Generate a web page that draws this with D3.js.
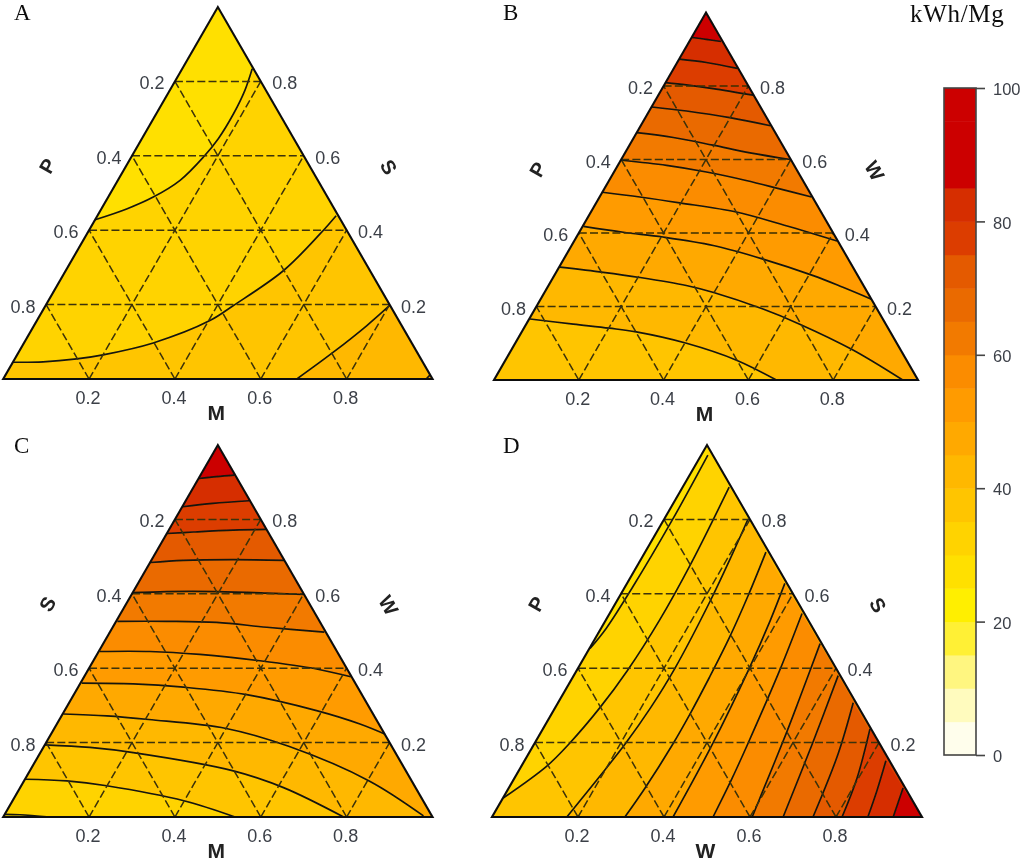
<!DOCTYPE html>
<html><head><meta charset="utf-8">
<script src="https://cdn.jsdelivr.net/npm/d3@7/dist/d3.min.js"></script>
<style>
html,body{margin:0;padding:0;background:#fff}
svg{display:block}
text{font-family:"Liberation Sans",Arial,sans-serif}
</style></head><body>
<svg id="chart" width="1024" height="862"></svg>
<script>
// Contours are [bottom-axis fraction, top-vertex fraction] pairs.
const contoursA = [
 [[.163,.834],[.175,.776],[.180,.713],[.178,.646],[.168,.596],[.145,.534],[.105,.489],[.059,.457],[0,.428]],
 [[.556,.439],[.543,.390],[.507,.291],[.437,.197],[.403,.157],[.301,.097],[.200,.065],[.144,.054],[.070,.046],[0,.045]],
 [[.801,.197],[.775,.143],[.733,.072],[.684,0]],
 [[.989,.011],[.985,0]]
];
const closuresA = [["L","R"],["L","R"],["R"],["R"]];
const levelsA = [30,35,40,45];

const contoursB = [
 [[.001,.932],[.037,.927],[.075,.921]],
 [[0,.873],[.069,.864],[.150,.848]],
 [[0,.809],[.052,.803],[.120,.793],[.224,.775]],
 [[.001,.743],[.088,.732],[.199,.714],[.306,.692]],
 [[0,.673],[.093,.660],[.197,.639],[.295,.618],[.399,.600]],
 [[.002,.598],[.115,.584],[.218,.566],[.323,.543],[.414,.520],[.500,.498]],
 [[0,.511],[.095,.498],[.197,.482],[.343,.457],[.461,.425],[.620,.378]],
 [[.002,.418],[.104,.402],[.204,.389],[.334,.366],[.470,.329],[.611,.284],[.695,.253],[.780,.220]],
 [[.002,.307],[.111,.293],[.204,.279],[.325,.257],[.399,.238],[.538,.193],[.645,.152],[.803,.083],[.964,0]],
 [[.002,.166],[.111,.152],[.201,.141],[.270,.131],[.404,.100],[.545,.054],[.666,0]]
].reverse();
const closuresB = [["R","T"],["R","T"],["T"],["T"],["T"],["T"],["T"],["T"],["T"],["T"]];
const levelsB = [40,45,50,55,60,65,70,75,80,85];

const contoursC = [
 [[.001,.910],[.040,.915],[.079,.919]],
 [[.001,.834],[.067,.843],[.148,.850]],
 [[0,.762],[.060,.766],[.150,.771],[.227,.773]],
 [[0,.684],[.075,.690],[.190,.692],[.310,.690]],
 [[0,.603],[.078,.606],[.194,.606],[.313,.602],[.400,.598]],
 [[.003,.526],[.118,.526],[.2355,.523],[.359,.510],[.4995,.497]],
 [[.0025,.445],[.1195,.445],[.2395,.437],[.388,.420],[.531,.398],[.621,.377]],
 [[.003,.360],[.124,.358],[.2455,.349],[.4025,.329],[.587,.286],[.706,.250],[.790,.218]],
 [[.0015,.277],[.105,.272],[.208,.262],[.4005,.238],[.570,.190],[.804,.097],[.9775,.003]],
 [[0,.194],[.1085,.187],[.2165,.173],[.474,.124],[.6135,.079],[.793,0]],
 [[0,.1015],[.0995,.097],[.199,.084],[.4015,.043],[.540,0]],
 [[.0005,.007],[.036,.006],[.109,0]]
].reverse();
const closuresC = [["R","T"],["R","T"],["R","T"],["R","T"],["T"],["T"],["T"],["T"],["T"],["T"],["T"],["T"]];
const levelsC = [30,35,40,45,50,55,60,65,70,75,80,85];

const contoursD = [
 [[.0155,.973],[.020,.798],[.018,.617],[.012,.507],[.0015,.453]],
 [[.108,.887],[.122,.682],[.125,.528],[.118,.394],[.104,.294],[.081,.197],[.059,.137],[.0005,.051]],
 [[.195,.801],[.205,.712],[.217,.582],[.2255,.399],[.222,.294],[.2115,.197],[.195,.105],[.174,0]],
 [[.281,.712],[.298,.596],[.311,.482],[.318,.375],[.322,.278],[.3225,.197],[.317,.078],[.309,0]],
 [[.367,.628],[.383,.528],[.3985,.399],[.415,.191],[.421,0]],
 [[.4475,.547],[.472,.394],[.4965,.197],[.507,.097],[.514,0]],
 [[.530,.466],[.557,.313],[.572,.224],[.596,.062],[.605,0]],
 [[.615,.380],[.6465,.197],[.677,0]],
 [[.6865,.307],[.720,.170],[.7465,0]],
 [[.7605,.237],[.7965,.105],[.814,0]],
 [[.8405,.151],[.860,.070],[.874,0]],
 [[.917,.078],[.933,0]]
];
const closuresD = [["L","R","T"],["L","R"],["R"],["R"],["R"],["R"],["R"],["R"],["R"],["R"],["R"],["R"]];
const levelsD = [30,35,40,45,50,55,60,65,70,75,80,85];

const panelNames = ["A","B","C","D"];
const bottomTitles = ["M","M","M","W"];
const leftTitles = ["P","P","S","P"];
const rightTitles = ["S","W","W","S"];
const gridTicks = [.2,.4,.6,.8];
const bandFloors = [0,5,10,15,20,25,30,35,40,45,50,55,60,65,70,75,80,85,90,95];
const bandColors = ["#FFFEEC","#FFFBBE","#FFF680","#FFF036","#FFEF00","#FFE000","#FFD300","#FFC500","#FFB800","#FFA900","#FF9B00","#FB8C00","#F27A00","#EA6A00","#E45A00","#DC3E00","#D62F00","#CC0000","#CC0000","#CC0000"];
const legendTicks = [0,20,40,60,80,100];
const legendTitle = "kWh/Mg";

const color = d3.scaleThreshold().domain(bandFloors.slice(1)).range(bandColors);
const root = d3.select("#chart");
const defs = root.append("defs");
defs.append("filter").attr("id","soft").attr("filterUnits","userSpaceOnUse")
  .attr("x",0).attr("y",0).attr("width",1024).attr("height",862)
  .append("feGaussianBlur").attr("stdDeviation",0.45);
const svg = root.append("g").attr("filter","url(#soft)");
const LABEL = "#3b3f47";

const layouts = [
 {L:3.2,R:432.5,B:379,T:7, lx:14,ly:20, contours:contoursA, closures:closuresA, levels:levelsA, base:25},
 {L:494,R:918,B:380,T:12.5,lx:503,ly:20, contours:contoursB, closures:closuresB, levels:levelsB, base:35},
 {L:3.2,R:432.5,B:817,T:445,lx:14,ly:453, contours:contoursC, closures:closuresC, levels:levelsC, base:25},
 {L:492,R:922,B:817,T:445,lx:503,ly:453, contours:contoursD, closures:closuresD, levels:levelsD, base:25}
];

layouts.forEach((p,i)=>{
  const xs = d3.scaleLinear().domain([0,1]).range([p.L,p.R]);
  const ys = d3.scaleLinear().domain([0,1]).range([p.B,p.T]);
  const px = d=>xs(d[0]+d[1]/2), py = d=>ys(d[1]);
  const corners = {L:[0,0],R:[1,0],T:[0,1]};
  const tri = [corners.L,corners.R,corners.T];
  const g = svg.append("g");
  defs.append("clipPath").attr("id","clip"+i).append("path")
    .attr("d",d3.line().x(px).y(py)(tri)+"Z");
  const inner = g.append("g").attr("clip-path",`url(#clip${i})`);
  const curve = d3.line().x(px).y(py).curve(d3.curveCatmullRom.alpha(0.5));
  const straight = d3.line().x(px).y(py);
  inner.append("path").attr("d",straight(tri)+"Z").attr("fill",color(p.base));
  inner.selectAll("path.band").data(p.contours).join("path").attr("class","band")
    .attr("d",(c,k)=>{
       const tail = p.closures[k].map(n=>corners[n]);
       return curve(c)+tail.map(t=>`L${px(t)},${py(t)}`).join("")+"Z";
    })
    .attr("fill",(c,k)=>color(p.levels[k]));
  inner.selectAll("path.iso").data(p.contours).join("path").attr("class","iso")
    .attr("d",curve).attr("fill","none").attr("stroke","#15150e").attr("stroke-width",1.65);
  const gridLines = gridTicks.flatMap(v=>[
     [[0,v],[1-v,v]],
     [[v,0],[v,1-v]],
     [[v,0],[0,v]]
  ]);
  inner.selectAll("path.grid").data(gridLines).join("path").attr("class","grid")
    .attr("d",straight).attr("fill","none").attr("stroke","#3a3008").attr("stroke-width",1.5)
    .attr("stroke-dasharray","8 3.2");
  g.append("path").attr("d",straight(tri)+"Z").attr("fill","none")
    .attr("stroke","#0c0c0c").attr("stroke-width",2.1).attr("stroke-linejoin","miter");

  const bottom = d3.axisBottom(xs)
     .tickValues(gridTicks).tickSize(0).tickPadding(0).tickFormat(d3.format(".1f"));
  const ax = g.append("g").attr("transform",`translate(-1.5,${p.B+12})`).call(bottom);
  ax.select(".domain").remove();
  ax.selectAll("text").attr("font-size",18).attr("fill",LABEL).attr("dy","0.71em")
    .style("font-family",'"Liberation Sans",Arial,sans-serif');
  g.selectAll("text.lt").data(gridTicks).join("text").attr("class","lt")
    .attr("x",v=>px([0,1-v])-23).attr("y",v=>py([0,1-v])+8)
    .attr("text-anchor","middle").attr("font-size",18).attr("fill",LABEL).text(d3.format(".1f"));
  g.selectAll("text.rt").data(gridTicks).join("text").attr("class","rt")
    .attr("x",v=>px([1-v,v])+24).attr("y",v=>py([1-v,v])+8)
    .attr("text-anchor","middle").attr("font-size",18).attr("fill",LABEL).text(d3.format(".1f"));
  const mid = (p.L+p.R)/2;
  const h = p.B-p.T, w = p.R-p.L;
  g.append("text").attr("x",mid-1.5).attr("y",p.B+41).attr("text-anchor","middle")
    .attr("font-size",21).attr("font-weight","bold").attr("fill","#222").text(bottomTitles[i]);
  g.append("text").attr("transform",`translate(${mid-w*0.397},${p.B-h*0.573}) rotate(-60)`)
    .attr("text-anchor","middle").attr("dy","0.36em")
    .attr("font-size",20).attr("font-weight","bold").attr("fill","#222").text(leftTitles[i]);
  g.append("text").attr("transform",`translate(${mid+w*0.398},${p.B-h*0.570}) rotate(60)`)
    .attr("text-anchor","middle").attr("dy","0.36em")
    .attr("font-size",20).attr("font-weight","bold").attr("fill","#222").text(rightTitles[i]);
  g.append("text").attr("x",p.lx).attr("y",p.ly)
    .style("font-family",'"Liberation Serif","Times New Roman",serif')
    .attr("font-size",23).attr("fill","#111").text(panelNames[i]);
});

const yBar = d3.scaleLinear().domain([0,100]).range([755,88]);
const barX = 944, barW = 32;
const bar = svg.append("g");
bar.selectAll("rect").data(bandFloors).join("rect")
  .attr("x",barX).attr("width",barW)
  .attr("y",d=>yBar(d+5)).attr("height",d=>yBar(d)-yBar(d+5)+0.5)
  .attr("fill",d=>color(d));
bar.append("rect").attr("x",barX).attr("y",yBar(100)).attr("width",barW).attr("height",yBar(0)-yBar(100))
  .attr("fill","none").attr("stroke","#444").attr("stroke-width",1.6);
const legend = svg.append("g").attr("transform",`translate(${barX+barW},0)`)
  .call(d3.axisRight(yBar).tickValues(legendTicks).tickSize(9).tickPadding(8).tickFormat(d3.format("d")));
legend.select(".domain").remove();
legend.selectAll("line").attr("stroke","#444").attr("stroke-width",1.6);
legend.selectAll("text").attr("font-size",16.5).attr("fill",LABEL).attr("y",0).attr("dy","0.4em")
  .style("font-family",'"Liberation Sans",Arial,sans-serif');
svg.append("text").attr("x",910).attr("y",22)
  .style("font-family",'"Liberation Serif","Times New Roman",serif')
  .style("letter-spacing","0.7px")
  .attr("font-size",25).attr("fill","#111").text(legendTitle);
</script>
</body></html>
